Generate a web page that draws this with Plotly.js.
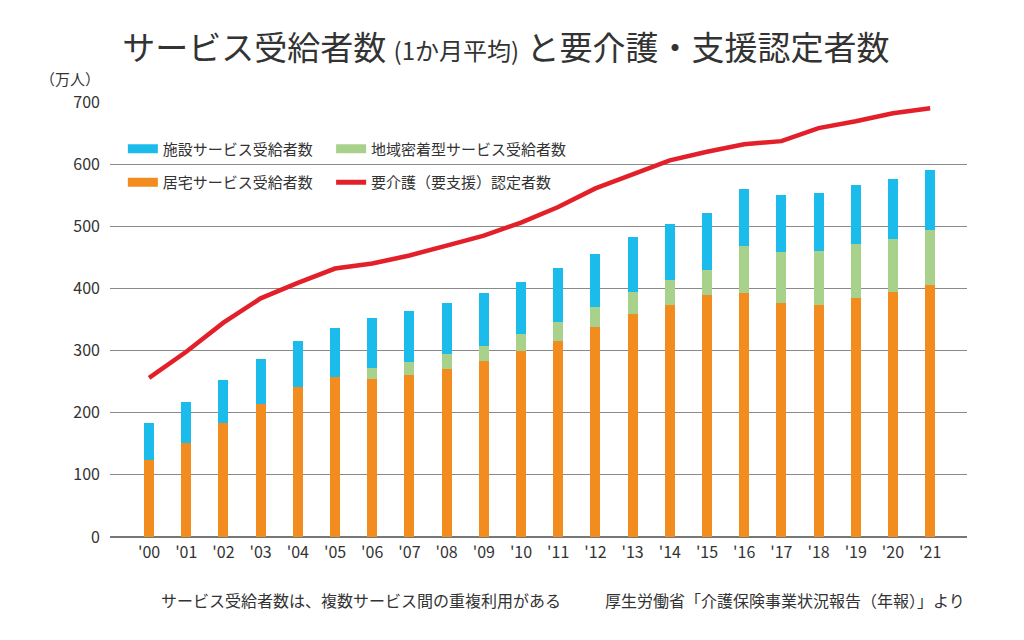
<!DOCTYPE html>
<html>
<head>
<meta charset="utf-8">
<script src="https://cdn.plot.ly/plotly-3.0.1.min.js"></script>
<style>html,body{margin:0;padding:0;background:#fff;}#chart{width:1024px;height:640px;}</style>
</head>
<body>
<div id="chart"></div>
<script>
const years = ["'00","'01","'02","'03","'04","'05","'06","'07","'08","'09","'10","'11","'12","'13","'14","'15","'16","'17","'18","'19","'20","'21"];
const homeService = [124,151,184,214,241,258,255,261,271,284,300,316,338,359,374,389,392,377,374,384,394,405];
const communityService = [0,0,0,0,0,0,17,20,23,24,27,30,32,35,39,41,76,82,87,88,86,89];
const facilityService = [60,66,68,72,74,78,81,82,83,84,84,87,86,89,91,91,92,92,93,95,96,96];
const certified = [256,298,345,384,409,432,440,453,469,485,506,531,561,584,606,620,632,637,658,669,682,690];

const names = {
  facility: '施設サービス受給者数',
  community: '地域密着型サービス受給者数',
  home: '居宅サービス受給者数',
  cert: '要介護（要支援）認定者数'
};
const colors = {facility:'#1BBCEC', community:'#A8D28C', home:'#F28C1F', cert:'#E3202A'};
const FONT = '"Noto Sans CJK JP", "Noto Sans", sans-serif';

const traces = [
  {type:'bar', x:years, y:homeService, name:names.home, marker:{color:colors.home}, width:0.27, showlegend:false},
  {type:'bar', x:years, y:communityService, name:names.community, marker:{color:colors.community}, width:0.27, showlegend:false},
  {type:'bar', x:years, y:facilityService, name:names.facility, marker:{color:colors.facility}, width:0.27, showlegend:false},
  {type:'scatter', mode:'lines', x:years, y:certified, name:names.cert, line:{color:colors.cert, width:4.5}, showlegend:false},
  // legend entries
  {type:'scatter', mode:'lines', x:[null], y:[null], name:names.facility, legendgroup:'a', line:{color:colors.facility, width:9}, legend:'legend'},
  {type:'scatter', mode:'lines', x:[null], y:[null], name:names.home, legendgroup:'b', line:{color:colors.home, width:9}, legend:'legend'},
  {type:'scatter', mode:'lines', x:[null], y:[null], name:names.community, legendgroup:'c', line:{color:colors.community, width:9}, legend:'legend2'},
  {type:'scatter', mode:'lines', x:[null], y:[null], name:names.cert, legendgroup:'d', line:{color:colors.cert, width:5}, legend:'legend2'}
];

const legendBase = {
  orientation:'v', bgcolor:'rgba(0,0,0,0)', borderwidth:0,
  font:{family:FONT, size:15, color:'#333'},
  xanchor:'left', yanchor:'top', tracegroupgap:11, itemwidth:30, traceorder:'grouped'
};

const layout = {
  width:1024, height:640,
  margin:{l:110, r:57, t:102, b:103},
  paper_bgcolor:'#fff', plot_bgcolor:'#fff',
  font:{family:FONT, color:'#333'},
  barmode:'stack',
  title:{
    text:'サービス受給者数 <span style="font-size:24px">(1か月平均)</span> と要介護・支援認定者数',
    x:0.494, xanchor:'center', y:0.925, yanchor:'middle',
    font:{family:FONT, size:33, color:'#333'}
  },
  xaxis:{
    type:'category', range:[-1.05, 21.99], showgrid:false, showline:false, zeroline:false,
    ticks:'', ticklabelstandoff:4, tickfont:{family:FONT, size:16, color:'#333'}, fixedrange:true
  },
  yaxis:{
    range:[0,700], tickvals:[0,100,200,300,400,500,600,700],
    showgrid:true, gridcolor:'#8a8a8a', gridwidth:1,
    zeroline:true, zerolinecolor:'#777', zerolinewidth:1.5,
    showline:false, ticks:'', ticklen:0, ticklabelstandoff:9,
    tickfont:{family:FONT, size:16, color:'#333'}, fixedrange:true
  },
  legend:Object.assign({}, legendBase, {x:0.015, y:0.93}),
  legend2:Object.assign({}, legendBase, {x:0.258, y:0.93}),
  shapes:[
    {type:'rect', xref:'paper', yref:'paper', x0:0.009, x1:0.545, y0:0.77, y1:0.94,
     fillcolor:'#fff', line:{width:0}, layer:'between'}
  ],
  annotations:[
    {text:'（万人）', xref:'paper', yref:'paper', x:-0.047, y:1.055, xanchor:'center', yanchor:'middle', showarrow:false,
     font:{family:FONT, size:15, color:'#333'}},
    {text:'サービス受給者数は、複数サービス間の重複利用がある', xref:'paper', yref:'paper', x:0.057, y:-0.145, xanchor:'left', yanchor:'middle', showarrow:false,
     font:{family:FONT, size:16, color:'#333'}},
    {text:'厚生労働省「介護保険事業状況報告（年報）」より', xref:'paper', yref:'paper', x:1.0, y:-0.145, xanchor:'right', yanchor:'middle', showarrow:false,
     font:{family:FONT, size:16, color:'#333'}}
  ],
  showlegend:true
};

Plotly.newPlot('chart', traces, layout, {displayModeBar:false, staticPlot:true});
</script>
</body>
</html>
